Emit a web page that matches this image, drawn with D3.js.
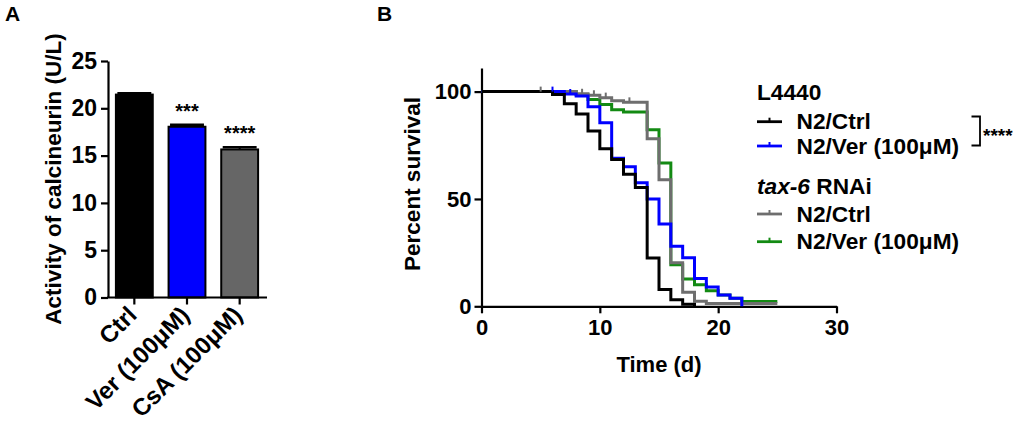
<!DOCTYPE html>
<html>
<head>
<meta charset="utf-8">
<script src="https://cdn.jsdelivr.net/npm/d3@7"></script>
<style>
  body { margin: 0; background: #fff; }
  svg { font-family: "Liberation Sans", Arial, sans-serif; font-weight: bold; }
  .axis path, .axis line { stroke: #000; stroke-width: 2.2px; }
  .axis text { font-size: 22px; font-weight: bold; fill: #000; }
  .axisA text { font-size: 23px; }
</style>
</head>
<body>
<svg width="1020" height="422"></svg>
<script>
// Panel A: calcineurin activity
const barCats = ["Ctrl", "Ver (100μM)", "CsA (100μM)"];
const barVals = [21.45, 18.05, 15.65];
const barErrs = [0.15, 0.22, 0.22];
const barColors = ["#000000", "#0000ff", "#666666"];
const barStars = ["", "***", "****"];
const barTicks = [0, 5, 10, 15, 20, 25];

// Panel B: survival curves, [day, percent] steps
const curveNames = ["N2/Ctrl", "N2/Ver (100μM)", "N2/Ctrl", "N2/Ver (100μM)"];
const curveColors = ["#000000", "#0000ff", "#6e6e6e", "#138a13"];
const blackDays = [0, 6, 7, 8, 9, 10, 11, 12, 13, 14, 15, 16, 17, 18];
const blackPct  = [100, 98.6, 94.3, 89.6, 81.6, 73.4, 68.4, 61.5, 55.3, 22.5, 7.8, 3, 1, 0];
const blueDays = [0, 7, 8, 9, 10, 11, 12, 13, 14, 15, 16, 17, 18, 19, 20, 21, 22];
const bluePct  = [100, 98.9, 98, 93, 85.5, 69, 65, 57.5, 50, 38.3, 28, 22.6, 13, 9, 5.3, 3.7, 0];
const greyDays = [0, 8, 9, 10, 11, 12, 14, 15, 16, 17, 18, 19, 25];
const greyPct  = [100, 99, 98.3, 97.2, 95.8, 95, 78, 59, 20.3, 6.5, 2.3, 1.3, 1.3];
const greenDays = [0, 8, 9, 10, 11, 12, 14, 15, 16, 17, 18, 19, 20, 21, 22, 25];
const greenPct  = [100, 98.5, 96.3, 94, 91.6, 90.5, 82.2, 66.7, 19.3, 12.7, 10, 7.3, 5.3, 3.8, 2.2, 2.2];
const greyCensor = [5, 8.5, 9.5, 10.5, 12.5];
const blueCensor = [6, 7.5];
const survTicks = [0, 50, 100];
const timeTicks = [0, 10, 20, 30];

const svg = d3.select("svg");

// ---------- Panel A ----------
const yA = d3.scaleLinear().domain([0, 25]).range([297.5, 61]);
const xA = d3.scaleBand().domain(barCats).range([108, 266]).paddingInner(0.3).paddingOuter(0.15);

let gA = svg.append("g");
gA.selectAll("rect.bar")
    .data(barVals)
    .enter().append("rect")
    .attr("x", (d, i) => xA(barCats[i]))
    .attr("y", d => yA(d))
    .attr("width", xA.bandwidth())
    .attr("height", d => yA(0) - yA(d))
    .attr("fill", (d, i) => barColors[i])
    .attr("stroke", "#000")
    .attr("stroke-width", 2);

// error bars
barVals.map((v, i) => {
    let cx = xA(barCats[i]) + xA.bandwidth() / 2;
    let w = xA.bandwidth() * 0.46;
    gA.append("line")
        .attr("x1", cx).attr("x2", cx)
        .attr("y1", yA(v)).attr("y2", yA(v + barErrs[i]))
        .attr("stroke", "#000").attr("stroke-width", 2);
    gA.append("line")
        .attr("x1", cx - w).attr("x2", cx + w)
        .attr("y1", yA(v + barErrs[i])).attr("y2", yA(v + barErrs[i]))
        .attr("stroke", "#000").attr("stroke-width", 2.5);
    if (barStars[i]) {
        gA.append("text")
            .attr("x", cx)
            .attr("y", yA(v + barErrs[i]) + 5)
            .attr("dy", "-0.6em")
            .attr("text-anchor", "middle")
            .attr("font-size", 20)
            .text(barStars[i]);
    }
});

gA.append("g")
    .attr("class", "axis axisA")
    .attr("transform", "translate(108,0)")
    .call(d3.axisLeft(yA).tickValues(barTicks).tickSize(7).tickSizeOuter(0).tickPadding(4));

// x axis of panel A
gA.append("line")
    .attr("x1", 107).attr("x2", 267)
    .attr("y1", yA(0)).attr("y2", yA(0))
    .attr("stroke", "#000").attr("stroke-width", 2.2);
barCats.map(c => {
    let cx = xA(c) + xA.bandwidth() / 2;
    gA.append("line")
        .attr("x1", cx).attr("x2", cx)
        .attr("y1", yA(0)).attr("y2", yA(0) + 7)
        .attr("stroke", "#000").attr("stroke-width", 2.2);
    gA.append("text")
        .attr("transform", `translate(${cx + 4},${yA(0) + 19}) rotate(-45)`)
        .attr("text-anchor", "end")
        .attr("font-size", 24)
        .text(c);
});

gA.append("text")
    .attr("transform", "translate(61,179) rotate(-90)")
    .attr("text-anchor", "middle")
    .attr("font-size", 22.5)
    .text("Activity of calcineurin (U/L)");

svg.append("text").attr("x", 5).attr("y", 21).attr("font-size", 21).text("A");

// ---------- Panel B ----------
const xB = d3.scaleLinear().domain([0, 30]).range([481.5, 836.5]);
const yB = d3.scaleLinear().domain([0, 111]).range([306.3, 68]);

let gB = svg.append("g");
gB.append("g")
    .attr("class", "axis")
    .attr("transform", "translate(0,306.3)")
    .call(d3.axisBottom(xB).tickValues(timeTicks).tickSize(7).tickSizeOuter(0).tickPadding(6));
gB.append("g")
    .attr("class", "axis")
    .attr("transform", "translate(481.5,0)")
    .call(d3.axisLeft(yB).tickValues(survTicks).tickSize(7).tickSizeOuter(0).tickPadding(3));

const stepLine = d3.line()
    .x(d => xB(d[0]))
    .y(d => yB(d[1]))
    .curve(d3.curveStepAfter);

const curves = [
    d3.zip(greenDays, greenPct),
    d3.zip(greyDays, greyPct),
    d3.zip(blueDays, bluePct),
    d3.zip(blackDays, blackPct)
];
const curveOrder = [3, 2, 1, 0];

let gLines = gB.append("g");
curves.map((c, k) => {
    gLines.append("path")
        .attr("d", stepLine(c))
        .attr("fill", "none")
        .attr("stroke", curveColors[curveOrder[k]])
        .attr("stroke-width", 3);
});

// censor marks
function valueAt(days, pct, t) {
    let i = d3.bisectRight(days, t) - 1;
    return pct[Math.max(0, i)];
}
greyCensor.map(t => {
    let yv = yB(valueAt(greyDays, greyPct, t));
    gLines.append("line")
        .attr("x1", xB(t)).attr("x2", xB(t))
        .attr("y1", yv).attr("y2", yv - 5)
        .attr("stroke", curveColors[2]).attr("stroke-width", 2);
});
blueCensor.map(t => {
    let yv = yB(valueAt(blueDays, bluePct, t));
    gLines.append("line")
        .attr("x1", xB(t)).attr("x2", xB(t))
        .attr("y1", yv).attr("y2", yv - 5)
        .attr("stroke", curveColors[1]).attr("stroke-width", 2);
});

gB.append("text")
    .attr("transform", "translate(420,184) rotate(-90)")
    .attr("text-anchor", "middle")
    .attr("font-size", 22.5)
    .text("Percent survival");

gB.append("text")
    .attr("x", 659).attr("y", 372)
    .attr("text-anchor", "middle")
    .attr("font-size", 22)
    .text("Time (d)");

svg.append("text").attr("x", 377).attr("y", 21).attr("font-size", 21).text("B");

// legend
let leg = svg.append("g");
leg.append("text").attr("x", 757).attr("y", 99.5).attr("font-size", 22.7).text("L4440");
const legY = [121.7, 146, 214, 241.7];
curveNames.map((n, i) => {
    leg.append("line")
        .attr("x1", 757).attr("x2", 782)
        .attr("y1", legY[i]).attr("y2", legY[i])
        .attr("stroke", curveColors[i]).attr("stroke-width", 2.8);
    leg.append("line")
        .attr("x1", 769.5).attr("x2", 769.5)
        .attr("y1", legY[i]).attr("y2", legY[i] - 4)
        .attr("stroke", curveColors[i]).attr("stroke-width", 2);
    leg.append("text")
        .attr("x", 796.5).attr("y", legY[i] + 7.5)
        .attr("font-size", 22.7)
        .text(n);
});
let rnai = leg.append("text").attr("x", 757).attr("y", 193.5).attr("font-size", 22.7);
rnai.append("tspan").attr("font-style", "italic").text("tax-6");
rnai.append("tspan").text(" RNAi");

// significance bracket
leg.append("path")
    .attr("d", "M971.5,116.5H980V145.5H971.5")
    .attr("fill", "none").attr("stroke", "#000").attr("stroke-width", 1.8);
leg.append("text").attr("x", 983).attr("y", 142).attr("font-size", 19).text("****");
</script>
</body>
</html>
